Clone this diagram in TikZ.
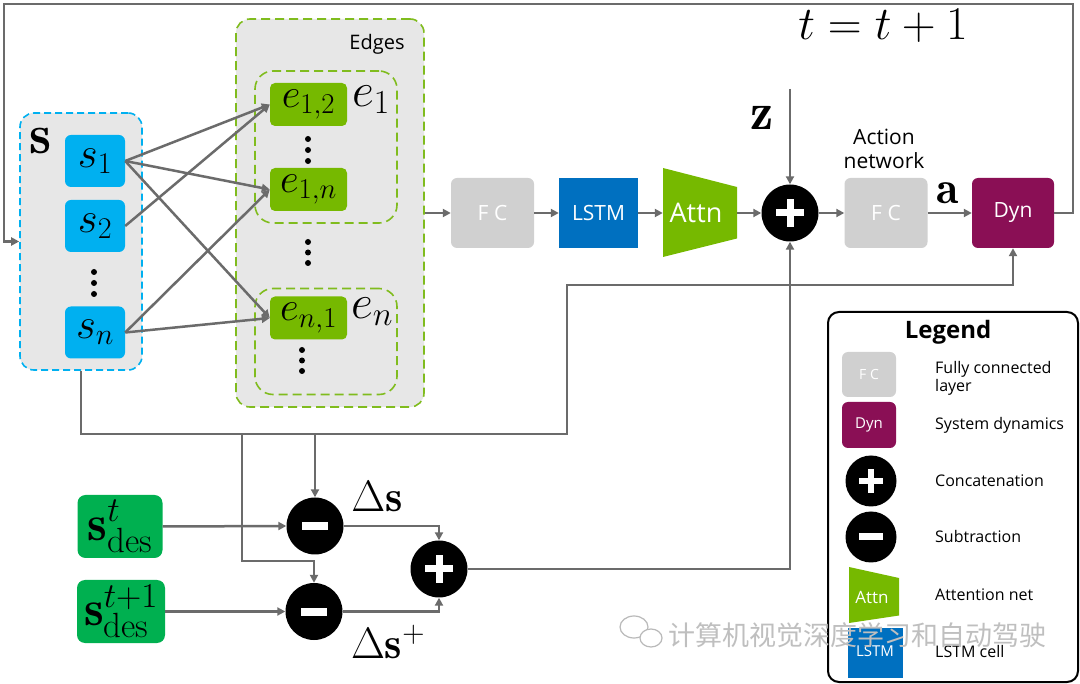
\RequirePackage{fix-cm}
\documentclass[tikz,border=0pt]{standalone}
\usepackage{fontspec}
\setsansfont{Open Sans}
\newfontfamily\cjk{Noto Sans CJK SC}
\usetikzlibrary{arrows.meta}
\newcommand\fsz[1]{\fontsize{#1}{#1}\selectfont}
\definecolor{lg}{HTML}{6B6B6B}
\definecolor{bggray}{HTML}{E7E7E7}
\definecolor{sblue}{HTML}{00B0F0}
\definecolor{egreen}{HTML}{76B900}
\definecolor{eborder}{HTML}{80BC1E}
\definecolor{fcgray}{HTML}{D0D0D0}
\definecolor{lstmblue}{HTML}{0070C0}
\definecolor{dynpurple}{HTML}{8A0F55}
\definecolor{desgreen}{HTML}{00B050}
\tikzset{
  conn/.style={draw=lg, line width=2.5pt, -{Triangle[length=8pt,width=8pt]}},
  blk/.style={rectangle, rounded corners=6pt, inner sep=0pt, text=white, font=\sffamily\fsz{21}},
  fcbox/.style={blk, fill=fcgray, minimum width=83pt, minimum height=70pt},
  snode/.style={rectangle, rounded corners=6pt, inner sep=0pt, fill=sblue, minimum width=60pt, minimum height=52pt, font=\fsz{43}},
  enode/.style={rectangle, rounded corners=5pt, inner sep=0pt, fill=egreen, minimum width=77pt, minimum height=43pt, font=\fsz{41}},
  desnode/.style={rectangle, rounded corners=8pt, inner sep=0pt, fill=desgreen, minimum height=63pt, font=\fsz{50}},
  opnode/.style={circle, fill=black, inner sep=0pt, minimum size=#1},
  plussign/.style={path picture={\draw[white,line width=7pt] ([xshift=-14pt]path picture bounding box.center) -- ([xshift=14pt]path picture bounding box.center) ([yshift=-14pt]path picture bounding box.center) -- ([yshift=14pt]path picture bounding box.center);}},
  minussign/.style={path picture={\draw[white,line width=8pt] ([xshift=-13pt]path picture bounding box.center) -- ([xshift=13pt]path picture bounding box.center);}},
  plussmall/.style={path picture={\draw[white,line width=6pt] ([xshift=-12pt]path picture bounding box.center) -- ([xshift=12pt]path picture bounding box.center) ([yshift=-12pt]path picture bounding box.center) -- ([yshift=12pt]path picture bounding box.center);}},
  minussmall/.style={path picture={\draw[white,line width=7pt] ([xshift=-12pt]path picture bounding box.center) -- ([xshift=12pt]path picture bounding box.center);}},
  mathlbl/.style={inner sep=0pt, font=\fsz{#1}},
  legtext/.style={anchor=west, inner sep=0pt, font=\sffamily\fsz{16}, align=left}
}
\begin{document}
\begin{tikzpicture}[x=1pt,y=-1pt]
\useasboundingbox[fill=white] (0,0) rectangle (1080,684);

% ---------- S group ----------
\node[draw=sblue, line width=1.6pt, dash pattern=on 7pt off 4pt, fill=bggray, rounded corners=14pt,
      minimum width=122pt, minimum height=257pt, inner sep=0pt] (Sbox) at (81,241.5) {};
\node[mathlbl=56] (Slbl) at (41,141) {$\mathbf{s}$};
\node[snode] (s1) at (95,161) {$s_1$};
\node[snode] (s2) at (95,226) {$s_2$};
\node[snode] (sn) at (95,332.5) {$s_n$};
\foreach \yy in {272,283,294} \fill (94,\yy) circle (3pt);

% ---------- Edges group ----------
\node[draw=eborder, line width=1.6pt, dash pattern=on 9pt off 5pt, fill=bggray, rounded corners=14pt,
      minimum width=188pt, minimum height=388pt, inner sep=0pt] (Edges) at (330,213) {};
\node[inner sep=0pt, font=\sffamily\fsz{20}] (Edgeslbl) at (377,44) {Edges};
\node[draw=eborder, line width=1.6pt, dash pattern=on 9pt off 5pt, rounded corners=18pt,
      minimum width=142pt, minimum height=152pt, inner sep=0pt] (E1box) at (326,147) {};
\node[draw=eborder, line width=1.6pt, dash pattern=on 9pt off 5pt, rounded corners=18pt,
      minimum width=142pt, minimum height=106pt, inner sep=0pt] (Enbox) at (326,341.5) {};
\node[enode] (e12) at (308.5,104.5) {$e_{1,2}$};
\node[enode] (e1n) at (308.5,189.5) {$e_{1,n}$};
\node[enode] (en1) at (308.5,318) {$e_{n,1}$};
\node[mathlbl=48] (e1lbl) at (371,100) {$e_1$};
\node[mathlbl=48] (enlbl) at (372,312) {$e_n$};
\foreach \yy in {139,150,161} \fill (308,\yy) circle (3pt);
\foreach \yy in {242,252.5,263} \fill (308,\yy) circle (3pt);
\foreach \yy in {350,360.5,371} \fill (302,\yy) circle (3pt);

% ---------- main chain ----------
\node[fcbox] (fc1) at (492.5,213) {F C};
\node[blk, rounded corners=0pt, fill=lstmblue, minimum width=79pt, minimum height=70pt] (lstm) at (598.5,213) {LSTM};
\fill[egreen] (663,168) -- (737,187) -- (737,238.5) -- (663,257) -- cycle;
\node[inner sep=0pt, minimum width=74pt, minimum height=89pt, text=white, font=\sffamily\fsz{27}] (attn) at (700,213) {\hspace*{-8pt}Attn};
\node[opnode=57pt, plussign] (cat) at (790,213) {};
\node[fcbox] (fc2) at (886,213) {F C};
\node[blk, fill=dynpurple, minimum width=82pt, minimum height=70pt] (dyn) at (1013,213) {Dyn};
\node[mathlbl=46] (alb) at (948,193) {$\mathbf{a}$};
\node[mathlbl=52] (zlbl) at (762,118) {$\mathbf{z}$};
\node[inner sep=0pt, align=center, font=\sffamily\fsz{21}] (actlbl) at (884,149) {Action\\[3pt]network};
\node[mathlbl=47, anchor=base] (tlbl) at (883,40) {$t=t+1$};
\coordinate (ztop) at (790,89);

% ---------- bottom ----------
\node[desnode, minimum width=85pt] (sdes1) at (120,526.5) {$\mathbf{s}^t_{\mathrm{des}}$};
\node[desnode, minimum width=88pt] (sdes2) at (121,611.5) {$\mathbf{s}^{t+1}_{\mathrm{des}}$};
\node[opnode=57pt, minussign] (sub1) at (315,526) {};
\node[opnode=57pt, minussign] (sub2) at (314,611.5) {};
\node[opnode=57pt, plussign] (cat2) at (439,569) {};
\node[mathlbl=44] (dslbl) at (377,497) {$\Delta\mathbf{s}$};
\node[mathlbl=44] (dsplbl) at (388,642) {$\Delta\mathbf{s}^{+}$};

% ---------- connectors ----------
\draw[conn] (s1.east) -- (e12.west);
\draw[conn] (s1.east) -- (e1n.west);
\draw[conn] (s1.east) -- (en1.west);
\draw[conn] (s2.east) -- (e12.west);
\draw[conn] (sn.east) -- (e1n.west);
\draw[conn] (sn.east) -- (en1.west);
\draw[conn] (Edges.east) -- (fc1.west);
\draw[conn] (fc1.east) -- (lstm.west);
\draw[conn] (lstm.east) -- (attn.west);
\draw[conn] (attn.east) -- (cat.west);
\draw[conn] (ztop) -- (cat.north);
\draw[conn] (cat.east) -- (fc2.west);
\draw[conn] (fc2.east) -- (dyn.west);
\draw[conn] (dyn.east) -- (1073,213) -- (1073,4) -- (4,4) -- (4,241.5) -- (Sbox.west);
\draw[conn] (Sbox.south) -- (81,434) -- (567,434) -- (567,285) -- (1013,285) -- (dyn.south);
\draw[conn] (242,434) -- (242,561) -- (314,561) -- (sub2.north);
\draw[conn] (315,434) -- (sub1.north);
\draw[conn] (sdes1.east) -- (sub1.west);
\draw[conn] (sdes2.east) -- (sub2.west);
\draw[conn] (sub1.east) -- (439,526) -- (cat2.north);
\draw[conn] (sub2.east) -- (439,611.5) -- (cat2.south);
\draw[conn] (cat2.east) -- (790,569) -- (cat.south);

% ---------- legend ----------
\node[draw=black, line width=2pt, rounded corners=11pt, minimum width=250pt, minimum height=370pt, inner sep=0pt] (legend) at (953,497) {};
\node[inner sep=0pt, font=\sffamily\bfseries\fsz{24}] (leglbl) at (948,332) {Legend};
\node[blk, fill=fcgray, minimum width=54pt, minimum height=45pt, font=\sffamily\fsz{14}] (lfc) at (869,374.5) {F C};
\node[blk, fill=dynpurple, minimum width=54pt, minimum height=46pt, font=\sffamily\fsz{15}] (ldyn) at (869,425) {Dyn};
\node[opnode=51pt, plussmall] (lcat) at (871,481) {};
\node[opnode=51pt, minussmall] (lsub) at (871,537) {};
\fill[egreen] (849,567) -- (899,578) -- (899,615.5) -- (849,623) -- cycle;
\node[inner sep=0pt, text=white, font=\sffamily\fsz{17}] (lattn) at (872,597) {Attn};
\node[blk, rounded corners=0pt, fill=lstmblue, minimum width=55pt, minimum height=50pt, font=\sffamily\fsz{15}] (llstm) at (875,653) {\raisebox{4pt}{LSTM}};
\node[legtext] (t1) at (935,378) {Fully connected\\[2pt]layer};
\node[legtext] (t2) at (935,425) {System dynamics};
\node[legtext] (t3) at (935,481) {Concatenation};
\node[legtext] (t4) at (935,537) {Subtraction};
\node[legtext] (t5) at (935,595) {Attention net};
\node[legtext] (t6) at (935,651) {LSTM cell};

% ---------- watermark ----------
\draw[gray!55, line width=1.2pt, fill=white] (634,627) ellipse (14pt and 11pt);
\draw[gray!55, line width=1.2pt, fill=white] (651,638) ellipse (11pt and 9pt);
\node[anchor=west, inner sep=0pt, text=gray!50, font=\cjk\fsz{27}] (wm) at (668,635) {计算机视觉深度学习和自动驾驶};
\end{tikzpicture}
\end{document}
